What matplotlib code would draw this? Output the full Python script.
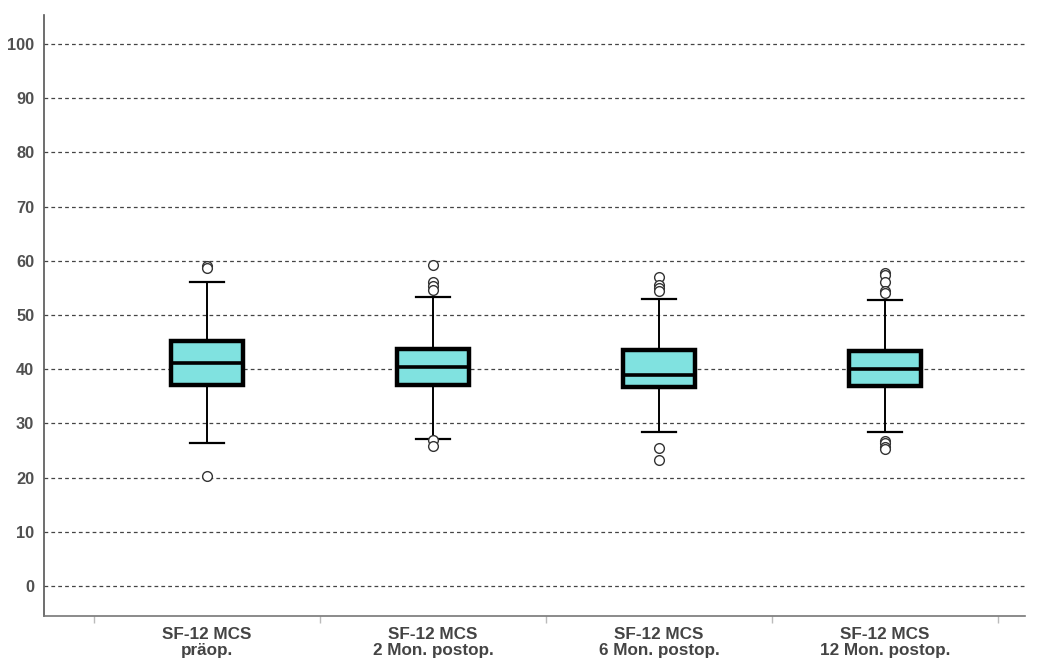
import matplotlib
matplotlib.use("Agg")
import matplotlib.pyplot as plt

categories = ["SF-12 MCS\npräop.", "SF-12 MCS\n2 Mon. postop.",
              "SF-12 MCS\n6 Mon. postop.", "SF-12 MCS\n12 Mon. postop."]
q1 = [37.1, 37.1, 36.7, 36.9]
median = [41.1, 40.4, 38.9, 40.0]
q3 = [45.2, 43.7, 43.5, 43.4]
whislo = [26.4, 27.1, 28.4, 28.4]
whishi = [56.1, 53.3, 53.0, 52.8]
outliers = [
    [59.1, 58.7, 20.3],
    [59.2, 56.0, 55.3, 54.6, 27.0, 25.8],
    [57.0, 55.6, 55.0, 54.5, 25.5, 23.2],
    [57.8, 57.3, 56.0, 54.5, 54.0, 26.7, 26.3, 25.7, 25.3],
]
yticks = list(range(0, 101, 10))

fig = plt.figure(figsize=(10.39, 6.59), dpi=100)
ax = fig.add_axes([44/1039, 43/659, (1025-44)/1039, (616-15)/659])

stats = []
for i in range(len(categories)):
    stats.append(dict(med=median[i], q1=q1[i], q3=q3[i], whislo=whislo[i],
                      whishi=whishi[i], fliers=outliers[i], label=categories[i]))

positions = list(range(1, len(categories) + 1))
ax.bxp(stats, positions=positions, widths=0.32, patch_artist=True,
       boxprops=dict(facecolor="#80E2E0", edgecolor="black", linewidth=3.2),
       medianprops=dict(color="black", linewidth=2.6),
       whiskerprops=dict(color="black", linewidth=1.4),
       capprops=dict(color="black", linewidth=1.6),
       capwidths=0.15,
       flierprops=dict(marker="o", markerfacecolor="white", markeredgecolor="#333333",
                       markersize=7, markeredgewidth=1.0),
       zorder=3)

ax.set_ylim(-5.54, 105.35)
ax.set_xlim(0.279, 4.62)
ax.set_yticks(yticks)
ax.set_yticklabels([str(t) for t in yticks], fontfamily="Liberation Sans",
                   fontweight="bold", fontsize=11.8, color="#505050")
ax.tick_params(axis="y", length=0, pad=7)
ax.yaxis.grid(True, linestyle=(0, (3, 2.5)), color="#444444", linewidth=0.9)
ax.set_axisbelow(True)

ax.set_xticks(positions)
ax.set_xticklabels(categories, fontfamily="Liberation Sans", fontweight="bold",
                   fontsize=12.3, color="#444444", linespacing=1.1)
ax.tick_params(axis="x", which="major", length=0, pad=8)
ax.set_xticks([p + 0.5 for p in [0] + positions], minor=True)
ax.tick_params(axis="x", which="minor", length=5, color="#bbbbbb", width=1)

for s in ["top", "right"]:
    ax.spines[s].set_visible(False)
ax.spines["left"].set_color("#555555")
ax.spines["bottom"].set_color("#777777")
ax.spines["left"].set_linewidth(1.2)
ax.spines["bottom"].set_linewidth(1.2)

fig.savefig("out.png", dpi=100, facecolor="white")
